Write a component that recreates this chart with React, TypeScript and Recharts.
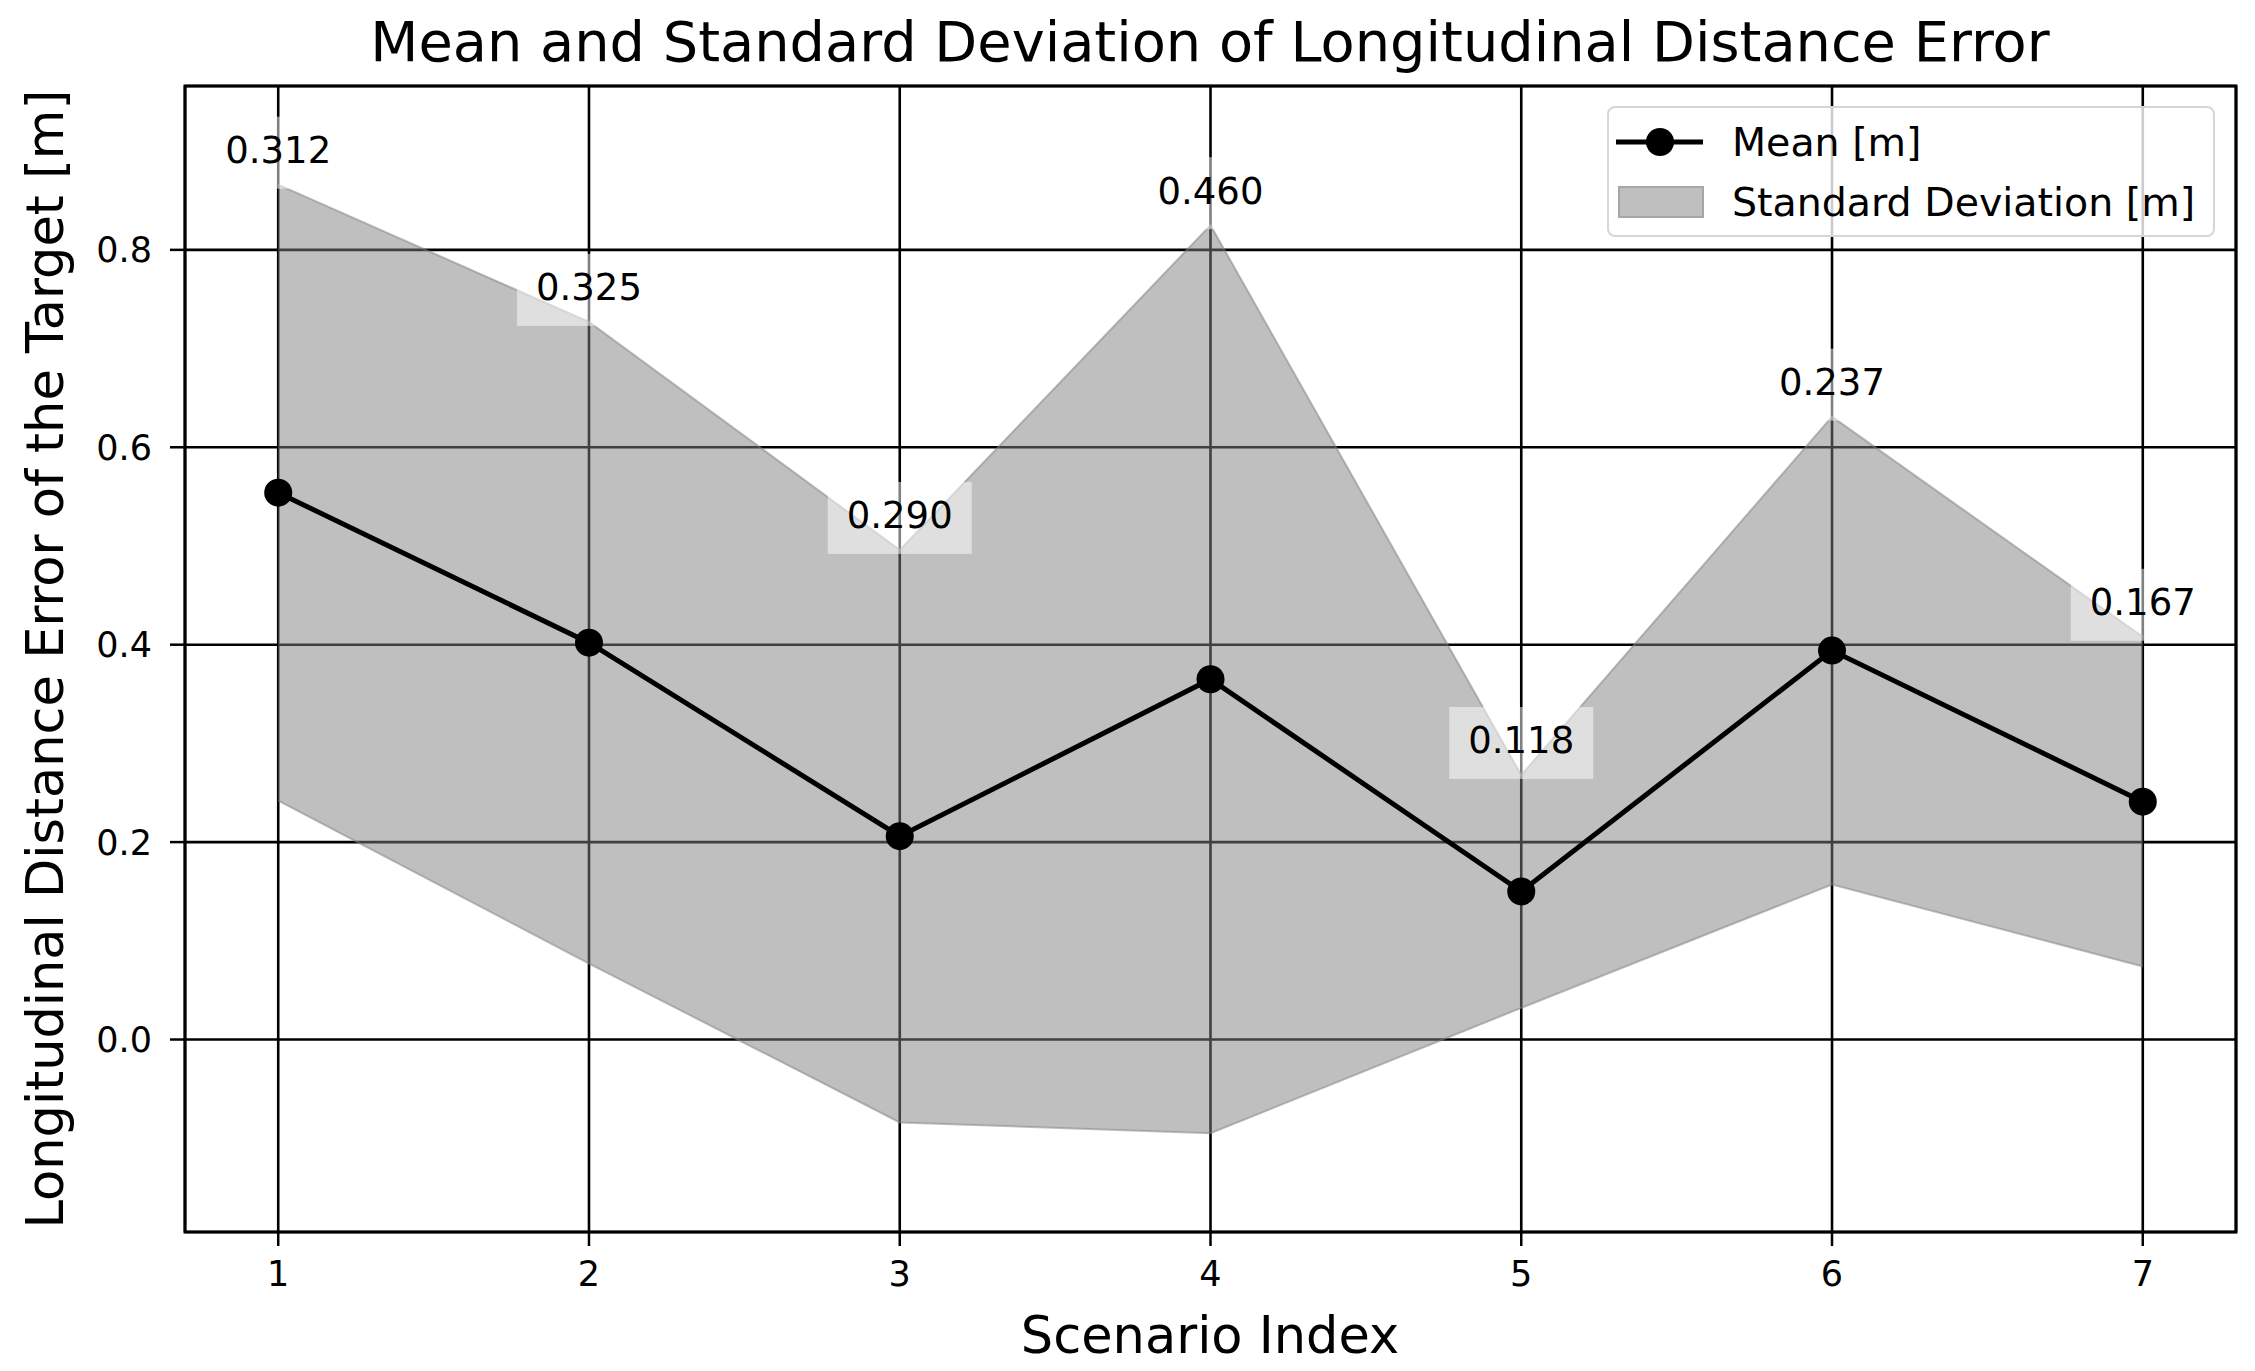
import React from 'react';
import {
  ComposedChart,
  Line,
  Area,
  XAxis,
  YAxis,
  CartesianGrid,
  ReferenceArea,
  LabelList,
  Legend,
} from 'recharts';

const scenarios = [1, 2, 3, 4, 5, 6, 7];
const meanValues = [0.554, 0.402, 0.206, 0.365, 0.15, 0.394, 0.241];
const stdValues = [0.312, 0.325, 0.29, 0.46, 0.118, 0.237, 0.167];
const stdLabels = ['0.312', '0.325', '0.290', '0.460', '0.118', '0.237', '0.167'];
const xTicks = [1, 2, 3, 4, 5, 6, 7];
const yTicks = [0, 0.2, 0.4, 0.6, 0.8];

const titleText = 'Mean and Standard Deviation of Longitudinal Distance Error';
const xLabelText = 'Scenario Index';
const yLabelText = 'Longitudinal Distance Error of the Target [m]';
const meanName = 'Mean [m]';
const stdName = 'Standard Deviation [m]';

const data = scenarios.map((s, i) => ({
  scenario: s,
  mean: meanValues[i],
  band: [meanValues[i] - stdValues[i], meanValues[i] + stdValues[i]],
  upper: meanValues[i] + stdValues[i],
  label: stdLabels[i],
}));

const lowers = data.map((d) => d.band[0]);
const uppers = data.map((d) => d.band[1]);
const yMin = Math.min(...lowers) - 0.1;
const yMax = Math.max(...uppers) + 0.1;
const xMin = 0.7;
const xMax = 7.3;

const FONT = '"DejaVu Sans", sans-serif';

const AnnLabel = (props: any) => {
  const { x, y, value } = props;
  if (x == null || y == null) return null;
  const fs = 37;
  const w = 144;
  const h = 72;
  const cy = y - 35;
  return (
    <g>
      <rect x={x - w / 2} y={y + 4 - h} width={w} height={h} fill="#ffffff" fillOpacity={0.5} />
      <text
        x={x}
        y={cy + fs * 0.365}
        textAnchor="middle"
        fontSize={fs}
        fontFamily={FONT}
        fill="#000"
      >
        {value}
      </text>
    </g>
  );
};

const LW = 608;
const LH = 131;

const LegendBox = () => (
  <div
    style={{
      boxSizing: 'border-box',
      width: LW,
      height: LH,
      border: '2px solid #d6d6d6',
      borderRadius: 8,
      background: 'rgba(255,255,255,0.8)',
      position: 'relative',
    }}
  >
    <svg width={LW} height={LH} style={{ position: 'absolute', left: -2, top: -2 }}>
      <line x1={9} y1={36} x2={96} y2={36} stroke="#000" strokeWidth={5} />
      <circle cx={53} cy={36} r={14} fill="#000" />
      <rect x={12} y={81} width={84} height={30} fill="#bfbfbf" stroke="#a6a6a6" strokeWidth={2} />
      <text x={125} y={36 + 14} fontSize={39.5} fontFamily={FONT} fill="#000">
        {meanName}
      </text>
      <text x={125} y={96 + 14} fontSize={39.5} fontFamily={FONT} fill="#000">
        {stdName}
      </text>
    </svg>
  </div>
);

export default function App() {
  return (
    <div
      style={{
        position: 'absolute',
        left: 0,
        top: 0,
        width: 2255,
        height: 1371,
        background: '#fff',
        overflow: 'hidden',
      }}
    >
      <ComposedChart
        width={2255}
        height={1371}
        data={data}
        margin={{ top: 86, right: 19, bottom: 79, left: 85 }}
      >
        <Area
          type="linear"
          dataKey="band"
          name={stdName}
          fill="#808080"
          fillOpacity={0.5}
          stroke="#808080"
          strokeOpacity={0.5}
          strokeWidth={2}
          isAnimationActive={false}
          activeDot={false}
          dot={false}
        />
        <CartesianGrid stroke="#000" strokeWidth={2.6} strokeOpacity={1} />
        <XAxis
          dataKey="scenario"
          type="number"
          domain={[xMin, xMax]}
          ticks={xTicks}
          allowDataOverflow
          height={60}
          axisLine={false}
          tickLine={{ stroke: '#000', strokeWidth: 2.5 }}
          tickSize={14}
          tickMargin={15}
          tick={{ fontSize: 35, fill: '#000', fontFamily: FONT }}
        />
        <YAxis
          type="number"
          domain={[yMin, yMax]}
          ticks={yTicks}
          allowDataOverflow
          width={100}
          axisLine={false}
          tickLine={{ stroke: '#000', strokeWidth: 2.5 }}
          tickSize={15}
          tickMargin={18}
          tickFormatter={(v: number) => v.toFixed(1)}
          tick={{ fontSize: 35, fill: '#000', fontFamily: FONT }}
        />
        <Line
          type="linear"
          dataKey="mean"
          name={meanName}
          stroke="#000"
          strokeWidth={5}
          dot={{ r: 14, fill: '#000', stroke: '#000', strokeWidth: 0 }}
          activeDot={false}
          isAnimationActive={false}
        />
        <Line
          type="linear"
          dataKey="upper"
          stroke="none"
          dot={false}
          activeDot={false}
          legendType="none"
          isAnimationActive={false}
        >
          <LabelList dataKey="label" content={AnnLabel} />
        </Line>
        <ReferenceArea
          x1={xMin}
          x2={xMax}
          y1={yMin}
          y2={yMax}
          fill="none"
          stroke="#000"
          strokeWidth={3}
          ifOverflow="visible"
        />
        <Legend
          layout="vertical"
          align="center"
          verticalAlign="middle"
          content={() => <LegendBox />}
          wrapperStyle={{ position: 'absolute', left: 1607, top: 106, width: LW, height: LH }}
        />
      </ComposedChart>
      <svg
        width={2255}
        height={1371}
        style={{ position: 'absolute', left: 0, top: 0, pointerEvents: 'none' }}
      >
        <text x={1210} y={61} textAnchor="middle" fontSize={55.8} fontFamily={FONT} fill="#000">
          {titleText}
        </text>
        <text x={1210} y={1353} textAnchor="middle" fontSize={51} fontFamily={FONT} fill="#000">
          {xLabelText}
        </text>
        <text
          x={63}
          y={659}
          textAnchor="middle"
          fontSize={51}
          fontFamily={FONT}
          fill="#000"
          transform="rotate(-90 63 659)"
        >
          {yLabelText}
        </text>
      </svg>
    </div>
  );
}
